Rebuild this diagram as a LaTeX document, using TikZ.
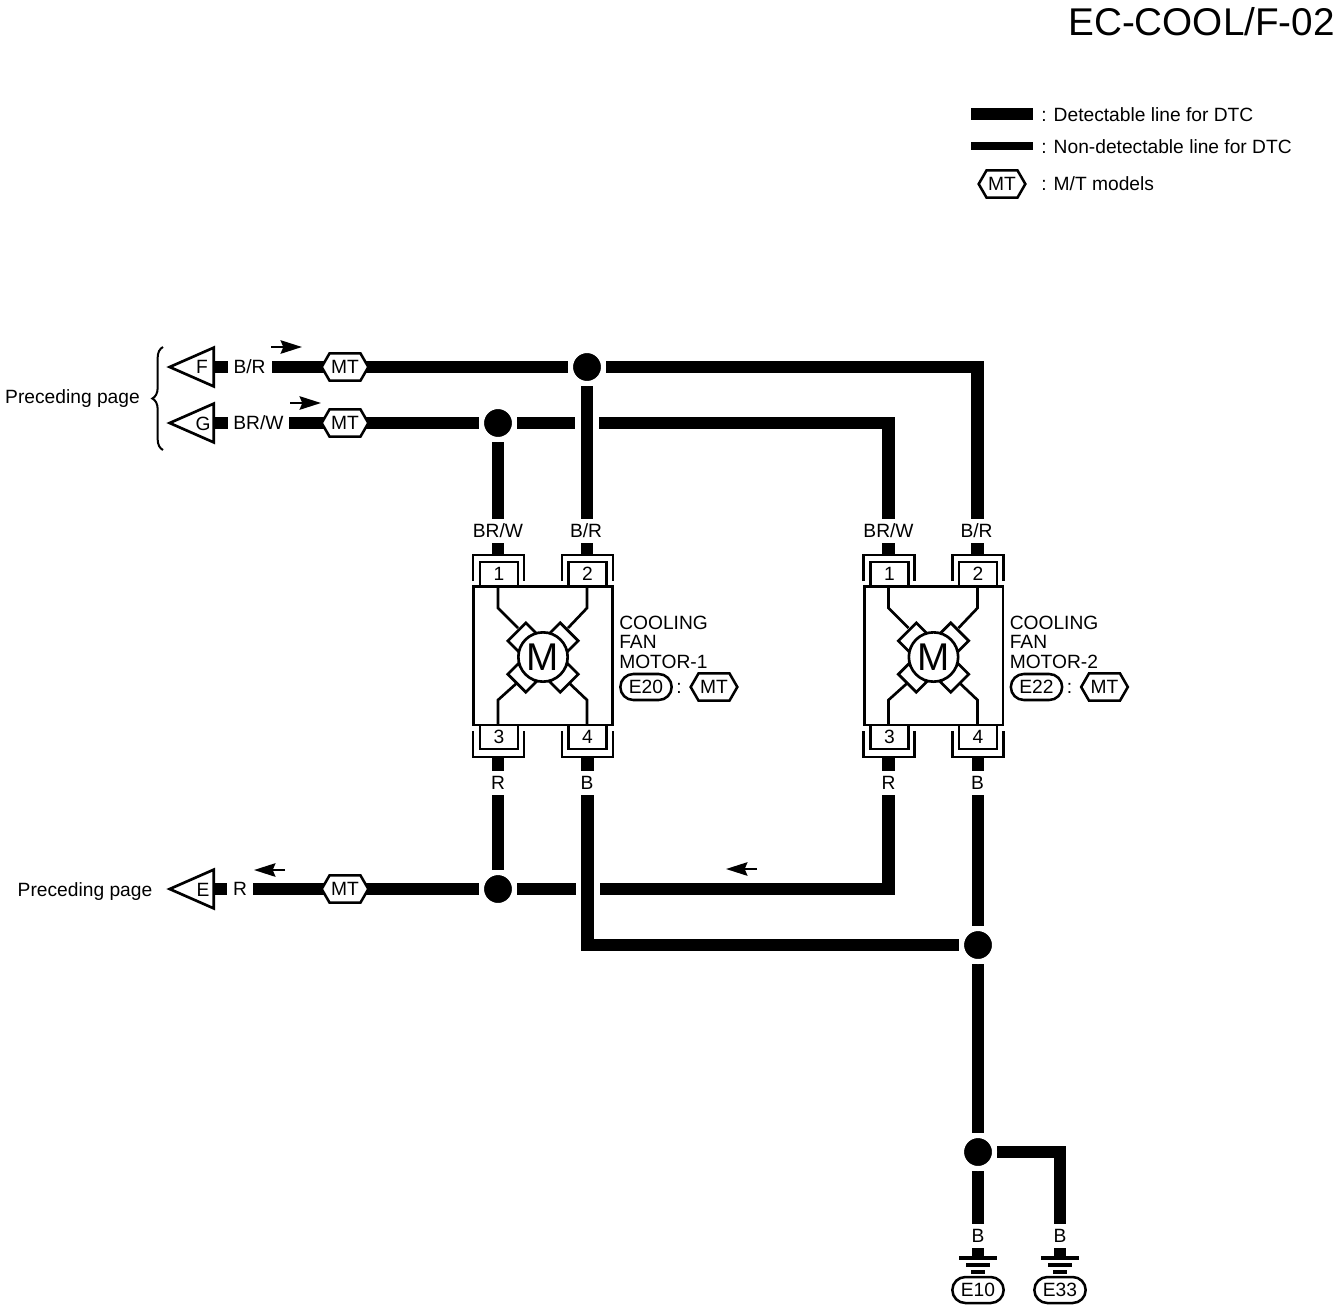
\documentclass[tikz,border=0pt]{standalone}
\usepackage{fontspec}
\setmainfont{Liberation Sans}
\usetikzlibrary{arrows.meta,backgrounds,decorations.pathreplacing,shapes.geometric,shapes.misc,shapes.symbols}

\tikzset{
    wire/.style={line width=9.6pt},
    crosswire/.style={wire, preaction={draw=white, line width=18pt}},
    lbl/.style={fill=white, inner sep=0, minimum height=18pt, font=\fontsize{14.4}{15}\selectfont},
    txt/.style={inner sep=0, font=\fontsize{14.4}{15}\selectfont},
    junc/.style={circle, fill=black, draw=white, line width=3.75pt, minimum size=24.75pt, inner sep=0},
    hexmt/.style={signal, signal to=east and west, signal pointer angle=120, draw, fill=white, line width=1.9pt,
        minimum width=35pt, minimum height=20.5pt, inner sep=0, font=\fontsize{14.4}{15}\selectfont},
    capsule/.style={rounded rectangle, draw, fill=white, line width=1.9pt, minimum width=38.5pt, minimum height=19.5pt,
        inner sep=0, font=\fontsize{14.4}{15}\selectfont},
    termbox/.style={draw, fill=white, line width=2pt, minimum width=28.5pt, minimum height=18pt, inner sep=0,
        font=\fontsize{14.4}{15}\selectfont},
    brushbox/.style={draw, fill=white, line width=2pt, minimum width=19pt, minimum height=11pt},
    pagetri/.style={isosceles triangle, isosceles triangle stretches, shape border rotate=180, anchor=lower side,
        draw, fill=white, line width=2pt, minimum width=29pt, minimum height=33pt, inner sep=0},
    flow/.style={-{Stealth[length=16pt,width=10pt,inset=2pt]}, line width=2pt},
}

\begin{document}
\begin{tikzpicture}[x=0.75pt, y=-0.75pt]
    \useasboundingbox (0,0) rectangle (1344,1310);

    \node[anchor=east, inner sep=0, font=\fontsize{29}{32}\selectfont] (sheet) at (1335,22) {EC-COOL/F-02};

    % legend
    \coordinate (legA) at (971,114);
    \coordinate (legB) at (1033,114);
    \coordinate (legC) at (971,146);
    \coordinate (legD) at (1033,146);
    \draw[line width=9.5pt] (legA) -- (legB);
    \draw[line width=5.5pt] (legC) -- (legD);
    \node[txt, anchor=west] (legtxtA) at (1041,115) {: Detectable line for DTC};
    \node[txt, anchor=west] (legtxtB) at (1041,147) {: Non-detectable line for DTC};
    \node[hexmt] (leghex) at (1002,184) {MT};
    \node[txt, anchor=west] (legtxtC) at (1041,184) {: M/T models};

    % page connectors on the left
    \node[pagetri] (triF) at (215,367) {};
    \node[pagetri] (triG) at (215,423) {};
    \node[pagetri] (triE) at (215,889) {};
    \node[inner sep=0, font=\fontsize{14.4}{15}\selectfont] (letF) at (202,367) {F};
    \node[inner sep=0, font=\fontsize{14.4}{15}\selectfont] (letG) at (203,424) {G};
    \node[inner sep=0, font=\fontsize{14.4}{15}\selectfont] (letE) at (203,890) {E};
    \node[txt] (prevA) at (72.5,399) {Preceding page};
    \node[txt] (prevB) at (85,892) {Preceding page};
    \coordinate (brTop) at (163,347);
    \coordinate (brBot) at (163,450);
    \draw[decorate, decoration={brace, amplitude=8pt}, line width=1.5pt] (brBot) -- (brTop);

    \node[lbl, minimum width=33pt] (labF) at (249.5,367) {B/R};
    \node[lbl, minimum width=46pt] (labG) at (258.5,423) {BR/W};
    \node[lbl, minimum width=19pt] (labE) at (240,889) {R};
    \node[hexmt] (hexF) at (345,367) {MT};
    \node[hexmt] (hexG) at (345,423) {MT};
    \node[hexmt] (hexE) at (345,889) {MT};

    % junctions
    \node[junc] (jF) at (587,367) {};
    \node[junc] (jG) at (498,423) {};
    \node[junc] (jR) at (498,889) {};
    \node[junc] (jB) at (978,945) {};
    \node[junc] (jGnd) at (978,1152) {};

    % the two motors
    \foreach \mot/\dx/\numb/\conn in {a/0/1/E20, b/390.5/2/E22} {
        \begin{scope}[xshift=\dx*0.75pt]
            \node[draw, line width=2pt, minimum width=104pt, minimum height=104pt] (box\mot) at (543,655.5) {};
            \coordinate (topl\mot) at (498,555);
            \coordinate (topr\mot) at (587,555);
            \coordinate (botl\mot) at (498,757);
            \coordinate (botr\mot) at (587.5,757);
            \draw[line width=2pt] (473,581) -- (473,555) -- (524,555) -- (524,581);
            \draw[line width=2pt] (562,581) -- (562,555) -- (613,555) -- (613,581);
            \draw[line width=2pt] (473,731) -- (473,757) -- (524,757) -- (524,731);
            \draw[line width=2pt] (562,731) -- (562,757) -- (613,757) -- (613,731);
            \node[termbox] (pin1\mot) at (499,574) {1};
            \node[termbox] (pin2\mot) at (587.5,574) {2};
            \node[termbox] (pin3\mot) at (499,737) {3};
            \node[termbox] (pin4\mot) at (587.5,737) {4};
            \draw[line width=2pt] (498,586) -- (498,608) -- (518,628);
            \draw[line width=2pt] (587,586) -- (587,608) -- (568,628);
            \draw[line width=2pt] (498,725) -- (498,700) -- (518,682);
            \draw[line width=2pt] (587,725) -- (587,700) -- (568,682);
            \node[brushbox, rotate=45] (brA\mot) at (522,637) {};
            \node[brushbox, rotate=-45] (brB\mot) at (564,637) {};
            \node[brushbox, rotate=-45] (brC\mot) at (522,678) {};
            \node[brushbox, rotate=45] (brD\mot) at (564,678) {};
            \node[circle, draw, fill=white, line width=2pt, minimum size=37pt, inner sep=0,
                font=\fontsize{29}{30}\selectfont] (arm\mot) at (543,657) {M};
            \node[lbl, minimum width=42pt] (labtl\mot) at (498,531) {BR/W};
            \node[lbl, minimum width=30pt] (labtr\mot) at (586,531) {B/R};
            \node[lbl, minimum width=30pt] (labbl\mot) at (498,783) {R};
            \node[lbl, minimum width=30pt] (labbr\mot) at (587,783) {B};
            \node[txt, anchor=west, align=left, font=\fontsize{14.4}{14.6}\selectfont] (name\mot) at (619,642)
                {COOLING\\FAN\\MOTOR-\numb};
            \node[capsule] (cap\mot) at (646,687) {\conn};
            \node[txt] (col\mot) at (679,688) {:};
            \node[hexmt] (hex\mot) at (714,687) {MT};
        \end{scope}
    }

    % grounds
    \node[lbl, minimum width=24pt] (labgA) at (978,1236) {B};
    \node[lbl, minimum width=24pt] (labgB) at (1060,1236) {B};
    \coordinate (gndA) at (978,1258);
    \coordinate (gndB) at (1060,1258);
    \coordinate (bendGnd) at (1060,1152);
    \foreach \g/\x/\conn in {A/978/E10, B/1060/E33} {
        \draw[line width=2.6pt] (\x-19,1258) -- (\x+19,1258);
        \draw[line width=2.6pt] (\x-12,1265) -- (\x+12,1265);
        \draw[line width=2.6pt] (\x-7,1272) -- (\x+7,1272);
        \node[capsule] (cap\g) at (\x,1290) {\conn};
    }

    % flow arrows
    \coordinate (flA) at (271,347);
    \coordinate (flB) at (302,347);
    \coordinate (flC) at (290,403);
    \coordinate (flD) at (321,403);
    \coordinate (flE) at (285,870);
    \coordinate (flF) at (254,870);
    \coordinate (flG) at (757,869);
    \coordinate (flH) at (726,869);
    \draw[flow] (flA) -- (flB);
    \draw[flow] (flC) -- (flD);
    \draw[flow] (flE) -- (flF);
    \draw[flow] (flG) -- (flH);

    % wiring, kept under the nodes
    \begin{scope}[on background layer]
        \draw[wire] (triF.lower side) -- (jF);
        \draw[wire] (triG.lower side) -- (jG);
        \draw[wire] (triE.lower side) -- (jR);
        \draw[wire] (jF) -| (toprb);
        \draw[wire] (jG) -- (toplb |- jG) -- (toplb);
        \draw[wire] (jG) -- (topla);
        \draw[crosswire] (jF) -- (topra);
        \draw[wire] (jR) -- (botla);
        \draw[wire] (jR) -- (botlb |- jR) -- (botlb);
        \draw[crosswire] (botra) -- (botra |- jB) -- (jB);
        \draw[wire] (botrb) -- (jB);
        \draw[wire] (jB) -- (jGnd);
        \draw[wire] (jGnd) -- (gndA);
        \draw[wire] (jGnd) -- (bendGnd) -- (gndB);
    \end{scope}
\end{tikzpicture}
\end{document}
